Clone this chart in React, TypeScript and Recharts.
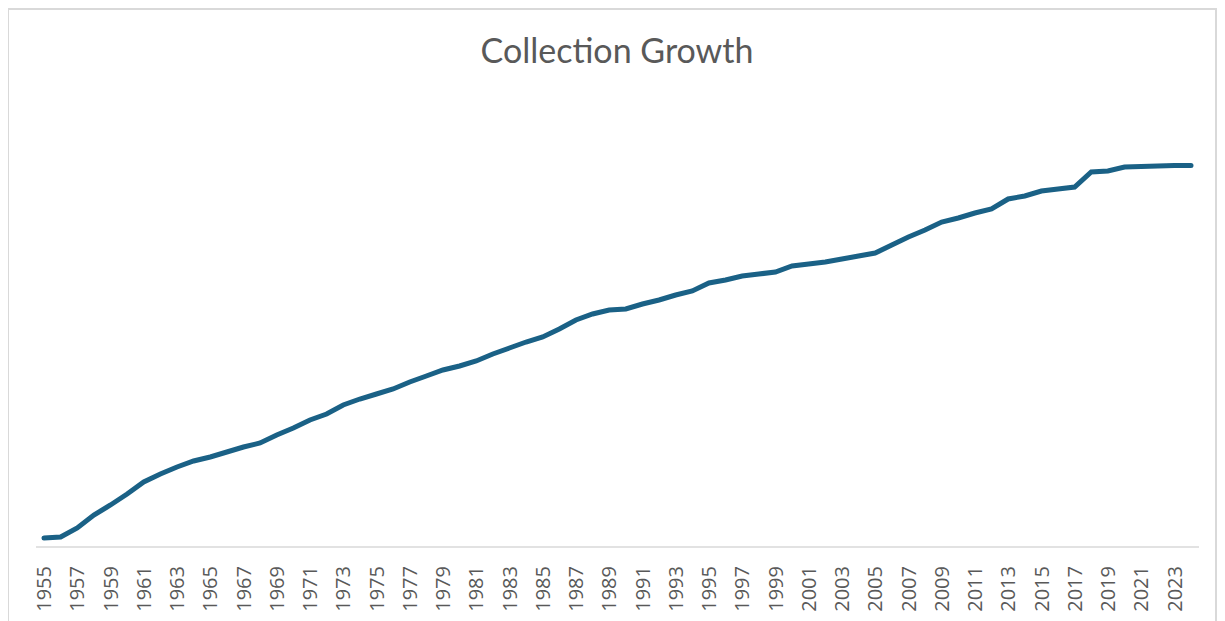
import React from 'react';
import { LineChart, Line, XAxis, YAxis } from 'recharts';

const years: number[] = [];
for (let y = 1955; y <= 2024; y++) years.push(y);

// collection size, relative units
const collection = [
  9, 10, 19, 32, 42, 53, 65, 73, 80, 86,
  90, 95, 100, 104, 112, 119, 127, 133, 142, 148,
  153, 158, 165, 171, 177, 181, 186, 193, 199, 205,
  210, 218, 227, 233, 237, 238, 243, 247, 252, 256,
  264, 267, 271, 273, 275, 281, 283, 285, 288, 291,
  294, 302, 310, 317, 325, 329, 334, 338, 348, 351,
  356, 358, 360, 375, 376, 380, 380.5, 381, 381.5, 381.5,
];

const data = years.map((year, i) => ({ year: String(year), value: collection[i] }));

const YearTick = (props: any) => {
  const { x, y, payload } = props;
  return (
    <text
      x={x}
      y={y + 11}
      transform={`rotate(-90, ${x}, ${y + 11})`}
      textAnchor="end"
      dy="0.36em"
      fill="#595959"
      fontSize={20}
      fontFamily="'Open Sans', sans-serif"
    >
      {payload.value}
    </text>
  );
};

export default function App() {
  return (
    <div
      style={{
        position: 'relative',
        width: 1210,
        height: 620,
        marginLeft: -1,
        border: '2px solid #d9d9d9',
        boxSizing: 'border-box',
        background: '#fff',
      }}
    >
      <div
        style={{
          position: 'absolute',
          top: 19,
          left: 5,
          width: '100%',
          textAlign: 'center',
          fontFamily: "Lato, 'Open Sans', sans-serif",
          fontSize: 34,
          color: '#595959',
        }}
      >
        Collection Growth
      </div>
      <LineChart
        width={1206}
        height={612}
        data={data}
        margin={{ top: 75, right: 16, bottom: 5, left: 27 }}
      >
        <XAxis
          dataKey="year"
          interval={1}
          tickLine={false}
          axisLine={{ stroke: '#d9d9d9', strokeWidth: 1.5 }}
          tick={<YearTick />}
          height={70}
          padding={{ left: 8, right: 8 }}
        />
        <YAxis hide domain={[0, 462]} />
        <Line
          type="linear"
          dataKey="value"
          stroke="#1a6186"
          strokeWidth={5}
          strokeLinecap="round"
          dot={false}
          isAnimationActive={false}
        />
      </LineChart>
    </div>
  );
}
